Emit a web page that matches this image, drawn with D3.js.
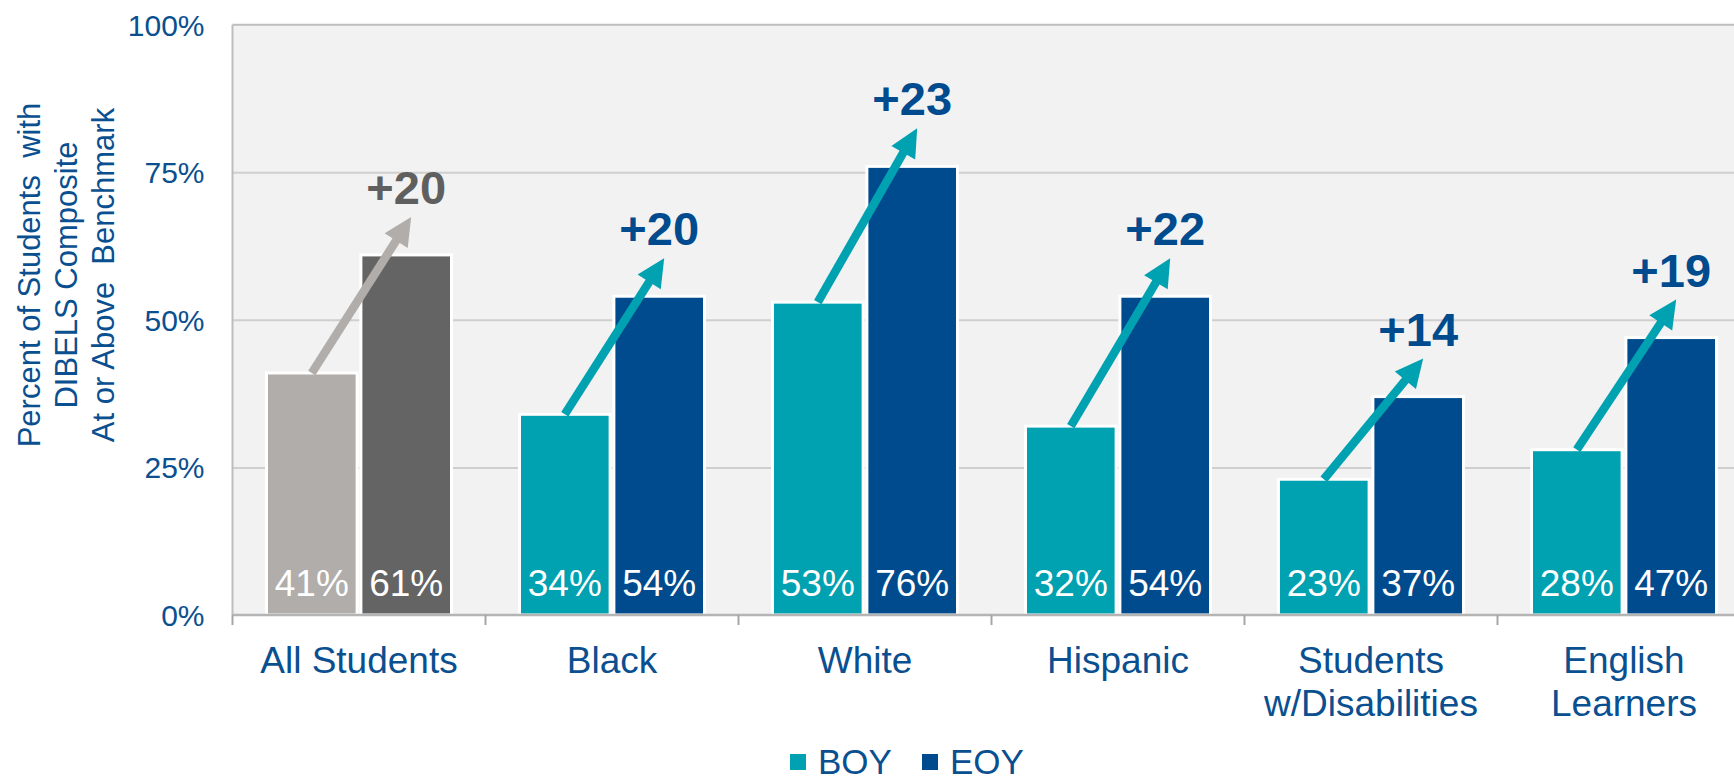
<!DOCTYPE html>
<html>
<head>
<meta charset="utf-8">
<script src="https://cdn.jsdelivr.net/npm/d3@7/dist/d3.min.js"></script>
<style>
  html, body { margin: 0; padding: 0; background: #ffffff; }
  svg { display: block; font-family: "Liberation Sans", Arial, sans-serif; }
</style>
</head>
<body>
<svg id="chart" width="1734" height="782"></svg>
<script>
// ---- Data ----
const categories = ["All Students", "Black", "White", "Hispanic", "Students w/Disabilities", "English Learners"];
const categoryLines = [["All Students"], ["Black"], ["White"], ["Hispanic"], ["Students", "w/Disabilities"], ["English", "Learners"]];
const seriesNames = ["BOY", "EOY"];
const boyValues = [41, 34, 53, 32, 23, 28];
const eoyValues = [61, 54, 76, 54, 37, 47];
const yTickValues = [0, 25, 50, 75, 100];
const yTitleLines = ["Percent of Students  with", "DIBELS Composite", "At or Above  Benchmark"];

// ---- Styles ----
const BLUE_TEXT = "#0a4f8f";
const TEAL = "#00a1b0";
const NAVY = "#004b8d";
const GRAY_L = "#b0adab";
const GRAY_D = "#646464";
const FONT = "'Liberation Sans', Arial, sans-serif";

const svg = d3.select("#chart");

const plotLeft = 232.5, bandW = 253;
const plotTop = 24.7, plotBottom = 615;

const x0 = d3.scaleBand().domain(categories).range([plotLeft, plotLeft + bandW * categories.length]).paddingInner(0).paddingOuter(0);
const x1 = d3.scaleBand().domain(seriesNames).range([34, 219]).paddingInner(0.04).paddingOuter(0);
const y = d3.scaleLinear().domain([0, 100]).range([plotBottom, plotTop]);

const plotRight = plotLeft + bandW * categories.length;

// background
svg.append("rect").attr("x", plotLeft).attr("y", plotTop)
  .attr("width", plotRight - plotLeft).attr("height", plotBottom - plotTop)
  .attr("fill", "#f2f2f2");

// gridlines via axis
const grid = svg.append("g").attr("transform", `translate(${plotLeft},0)`)
  .call(d3.axisLeft(y).tickValues(yTickValues.filter(v => v > 0 && v < 100)).tickSize(-(plotRight - plotLeft)).tickFormat(""));
grid.select(".domain").remove();
grid.selectAll(".tick line").attr("stroke", "#cfcfcf").attr("stroke-width", 2);

// top & left border
svg.append("line").attr("x1", plotLeft).attr("x2", plotRight).attr("y1", plotTop).attr("y2", plotTop)
  .attr("stroke", "#bdbdbd").attr("stroke-width", 2);
svg.append("line").attr("x1", plotLeft).attr("x2", plotLeft).attr("y1", plotTop).attr("y2", plotBottom)
  .attr("stroke", "#bdbdbd").attr("stroke-width", 2);

// y tick labels via axis
const yAxis = svg.append("g").attr("transform", `translate(${plotLeft},0)`)
  .call(d3.axisLeft(y).tickValues(yTickValues).tickSize(0).tickPadding(28).tickFormat(d => d + "%"));
yAxis.select(".domain").remove();
yAxis.selectAll(".tick text")
  .attr("fill", BLUE_TEXT).attr("font-size", 30).attr("font-family", FONT)
  .attr("dy", "0.35em");

// y title
const yt = svg.append("g");
yTitleLines.forEach((line, i) => {
  yt.append("text")
    .attr("transform", `translate(${39.5 + i * 37},275) rotate(-90)`)
    .attr("text-anchor", "middle")
    .attr("fill", BLUE_TEXT).attr("font-size", 31).attr("font-family", FONT)
    .style("white-space", "pre")
    .text(line);
});

// bars
const colorFor = (ci, s) => ci === 0 ? (s === "BOY" ? GRAY_L : GRAY_D) : (s === "BOY" ? TEAL : NAVY);
const rows = categories.map((c, i) => ({ c, i, BOY: boyValues[i], EOY: eoyValues[i] }));

const groups = svg.append("g").selectAll("g").data(rows).join("g")
  .attr("transform", d => `translate(${x0(d.c)},0)`);

groups.selectAll("rect").data(d => seriesNames.map(s => ({ s, v: d[s], ci: d.i }))).join("rect")
  .attr("x", d => x1(d.s))
  .attr("y", d => y(d.v))
  .attr("width", x1.bandwidth())
  .attr("height", d => y(0) - y(d.v))
  .attr("fill", d => colorFor(d.ci, d.s))
  .attr("stroke", "#ffffff").attr("stroke-width", 3);

groups.selectAll("text.val").data(d => seriesNames.map(s => ({ s, v: d[s] }))).join("text")
  .attr("class", "val")
  .attr("x", d => x1(d.s) + x1.bandwidth() / 2)
  .attr("y", 596)
  .attr("text-anchor", "middle")
  .attr("fill", "#ffffff").attr("font-size", 37).attr("font-family", FONT)
  .text(d => d.v + "%");

// x axis line
svg.append("line").attr("x1", plotLeft).attr("x2", plotRight).attr("y1", plotBottom).attr("y2", plotBottom)
  .attr("stroke", "#b4b4b4").attr("stroke-width", 2.5);
// tick marks at category boundaries
svg.append("g").selectAll("line").data(categories).join("line")
  .attr("x1", d => x0(d)).attr("x2", d => x0(d))
  .attr("y1", plotBottom).attr("y2", plotBottom + 10)
  .attr("stroke", "#a6a6a6").attr("stroke-width", 2);

// x labels
const xl = svg.append("g").selectAll("text").data(categories).join("text")
  .attr("text-anchor", "middle")
  .attr("fill", BLUE_TEXT).attr("font-size", 37).attr("font-family", FONT)
  .attr("x", d => x0(d) + bandW / 2)
  .attr("y", 673);
xl.each(function (d, i) {
  const t = d3.select(this);
  categoryLines[i].forEach((ln, k) => {
    t.append("tspan").attr("x", x0(d) + bandW / 2).attr("y", 673 + k * 43).text(ln);
  });
});

// arrows + gain labels
const arrows = svg.append("g");
rows.forEach(d => {
  const sx = x0(d.c) + x1("BOY") + x1.bandwidth() / 2;
  const sy = y(d.BOY);
  const ecx = x0(d.c) + x1("EOY") + x1.bandwidth() / 2;
  const tx = ecx + 5;
  const ty = y(d.EOY) - 38;
  const col = d.i === 0 ? GRAY_L : TEAL;
  const dx = tx - sx, dy = ty - sy;
  const len = Math.hypot(dx, dy);
  const ux = dx / len, uy = dy / len;
  const px = -uy, py = ux;
  const headL = 28, headHW = 13.7;
  const bx = tx - ux * headL, by = ty - uy * headL;
  arrows.append("line")
    .attr("x1", sx).attr("y1", sy)
    .attr("x2", bx + ux * 2).attr("y2", by + uy * 2)
    .attr("stroke", col).attr("stroke-width", 8.5);
  arrows.append("path")
    .attr("d", d3.line()([[tx, ty], [bx + px * headHW, by + py * headHW], [bx - px * headHW, by - py * headHW]]) + "Z")
    .attr("fill", col);
  arrows.append("text")
    .attr("x", ecx).attr("y", y(d.EOY) - 51)
    .attr("text-anchor", "middle")
    .attr("fill", d.i === 0 ? "#5f5f5f" : NAVY)
    .attr("font-size", 47).attr("font-weight", "bold").attr("font-family", FONT)
    .text("+" + (d.EOY - d.BOY));
});

// legend
const legend = svg.append("g");
const legendItems = [{ s: "BOY", c: TEAL, x: 790 }, { s: "EOY", c: NAVY, x: 922 }];
legendItems.forEach(it => {
  legend.append("rect").attr("x", it.x).attr("y", 754).attr("width", 16).attr("height", 16).attr("fill", it.c);
  legend.append("text").attr("x", it.x + 28).attr("y", 774)
    .attr("fill", BLUE_TEXT).attr("font-size", 35).attr("font-family", FONT).text(it.s);
});
</script>
</body>
</html>
